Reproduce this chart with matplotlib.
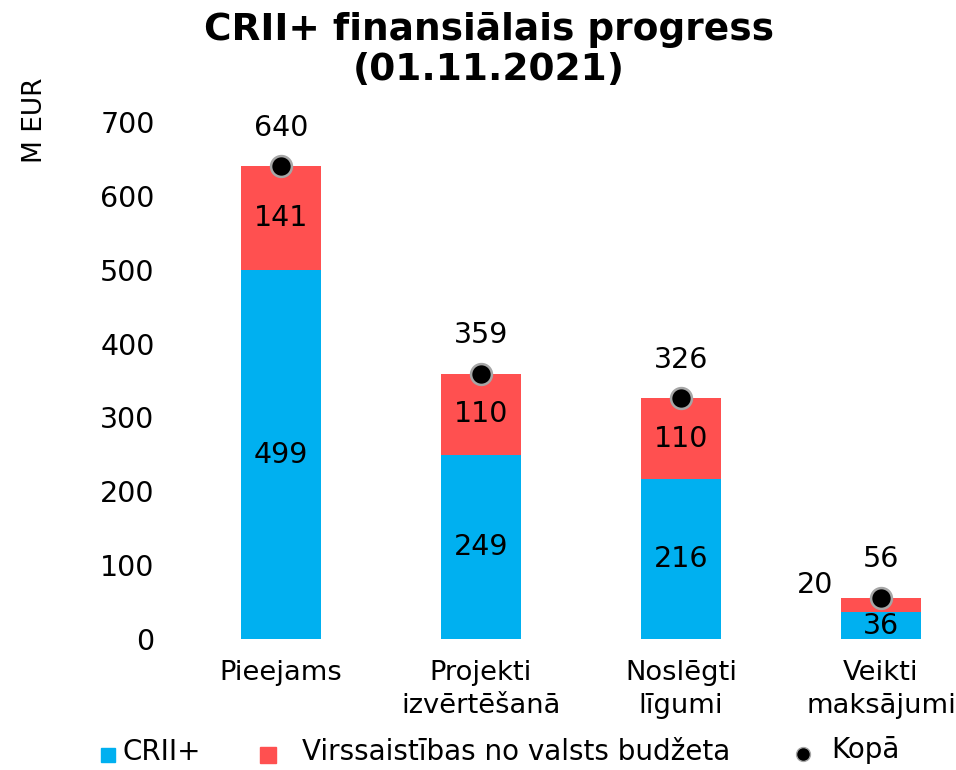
import matplotlib.pyplot as plt
import numpy as np
from matplotlib.lines import Line2D
from matplotlib.patches import Rectangle

categories = ["Pieejams", "Projekti\nizvērtēšanā", "Noslēgti\nlīgumi", "Veikti\nmaksājumi"]
crii = [499, 249, 216, 36]
virs = [141, 110, 110, 20]
kopa = [640, 359, 326, 56]
legend_labels = ["CRII+", "Virssaistības no valsts budžeta", "Kopā"]

blue = "#00B0F0"
red = "#FF5050"

plt.rcParams['font.family'] = ['DejaVu Sans']

fig = plt.figure(figsize=(9.56, 7.7), dpi=100)
W, H = 956, 770
ax = fig.add_axes([181 / W, 1 - 639 / H, 800 / W, (639 - 122) / H])

x = np.arange(len(categories))
ax.bar(x, crii, width=0.4, color=blue)
ax.bar(x, virs, width=0.4, bottom=crii, color=red)
ax.plot(x, kopa, 'o', color='black', markersize=15, markeredgecolor='#A6A6A6',
        markeredgewidth=1.8, zorder=5)

fs = 20.5
for i in range(len(x)):
    ax.text(x[i], crii[i] / 2, str(crii[i]), ha='center', va='center', fontsize=fs)
    if i < 3:
        ax.text(x[i], crii[i] + virs[i] / 2, str(virs[i]), ha='center', va='center', fontsize=fs)
    else:
        ax.text(x[i] - 0.33, crii[i] + 37, str(virs[i]), ha='center', va='center', fontsize=fs)
    ax.text(x[i], kopa[i] + 52, str(kopa[i]), ha='center', va='center', fontsize=fs)

ax.set_xlim(-0.5, 3.5)
ax.set_ylim(0, 700)
ax.set_yticks(range(0, 701, 100))
ax.set_xticks(x)
ax.set_xticklabels(categories, fontsize=19.7, linespacing=1.35)
ax.tick_params(axis='y', labelsize=fs, length=0, pad=19)
ax.tick_params(axis='x', length=0, pad=15)
for s in ax.spines.values():
    s.set_visible(False)

fig.text(489 / W, 1 - 50 / H, "CRII+ finansiālais progress\n(01.11.2021)", ha='center', va='center',
         fontsize=27, fontweight='bold', linespacing=1.15)
fig.text(35 / W, 1 - 120 / H, "M EUR", rotation=90, ha='center', va='center', fontsize=19)

# legend, placed by hand
ly = 1 - 755 / H
fig.add_artist(Rectangle((101 / W, ly - 7 / H), 14 / W, 14 / H, color=blue, transform=fig.transFigure))
fig.add_artist(Rectangle((260 / W, ly - 8 / H), 16 / W, 16 / H, color=red, transform=fig.transFigure))
fig.add_artist(Line2D([803 / W], [1 - 754 / H], marker='o', linestyle='none', color='black',
                      markersize=10, markeredgecolor='#A6A6A6', markeredgewidth=1.0,
                      transform=fig.transFigure))
fig.text(123 / W, 1 - 752 / H, legend_labels[0], ha='left', va='center', fontsize=20)
fig.text(302 / W, 1 - 752 / H, legend_labels[1], ha='left', va='center', fontsize=20)
fig.text(831 / W, 1 - 750 / H, legend_labels[2], ha='left', va='center', fontsize=20)

fig.savefig("out.png", dpi=100)
